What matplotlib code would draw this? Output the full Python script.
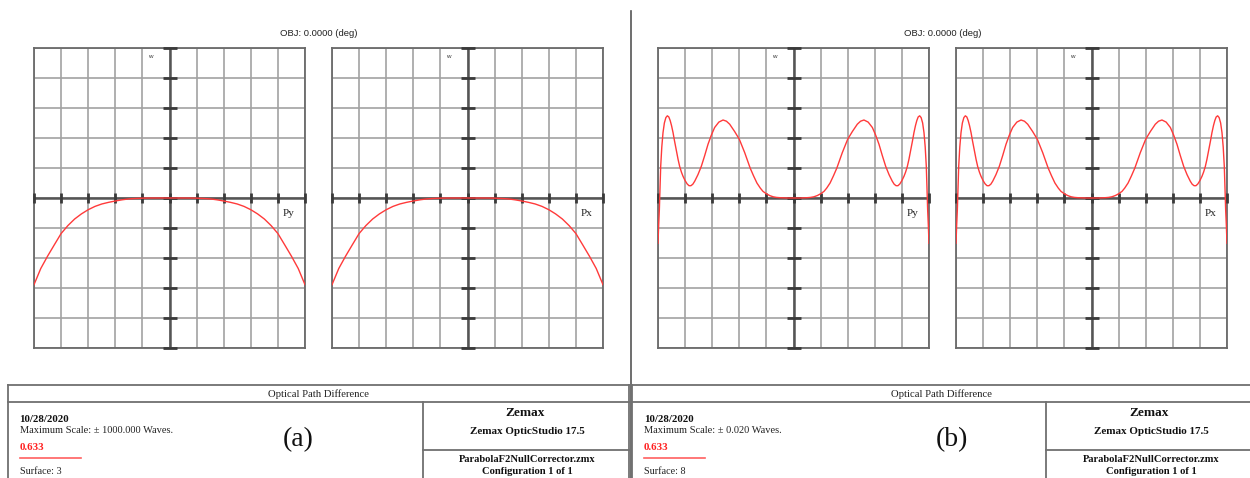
import numpy as np
import matplotlib
matplotlib.use("Agg")
import matplotlib.pyplot as plt

# ---- OPD fan data (normalized pupil coordinate, OPD in waves) ----
# Fans are rotationally symmetric on axis, so one half is listed and mirrored.
pupil_a = [0.00, 0.05, 0.10, 0.15, 0.20, 0.25, 0.30, 0.35, 0.40, 0.45, 0.50,
           0.55, 0.60, 0.65, 0.70, 0.75, 0.80, 0.85, 0.90, 0.95, 1.00]
opd_a = [0.0, 0.0, 0.0, -0.3, -1.0, -3.0, -6.0, -12.0, -20.0, -29.0, -40.0,
         -56.0, -78.0, -106.0, -140.0, -184.0, -237.0, -312.0, -388.0, -470.0, -578.0]

pupil_b = [0.000, 0.050, 0.100, 0.126, 0.150, 0.175, 0.200, 0.225, 0.245, 0.270,
           0.295, 0.320, 0.360, 0.400, 0.435, 0.471, 0.495, 0.520, 0.551, 0.582,
           0.606, 0.631, 0.655, 0.680, 0.705, 0.729, 0.743, 0.757, 0.771, 0.785,
           0.800, 0.815, 0.827, 0.840, 0.852, 0.866, 0.878, 0.889, 0.900, 0.910,
           0.920, 0.931, 0.942, 0.953, 0.963, 0.972, 0.980, 0.985, 0.990, 0.995,
           1.000]
opd_b = [0.0, 0.0, 0.00004, 0.00008, 0.00016, 0.00032, 0.00056, 0.00088, 0.00132, 0.0020,
         0.00296, 0.0040, 0.00604, 0.00784, 0.00888, 0.00984, 0.01024, 0.0104, 0.01012, 0.0094,
         0.0084, 0.00716, 0.00568, 0.00424, 0.00312, 0.00224, 0.00184, 0.00164, 0.00164, 0.00188,
         0.00232, 0.00288, 0.00344, 0.0042, 0.00516, 0.00648, 0.0076, 0.00872, 0.00964, 0.01032,
         0.0108, 0.01096, 0.01072, 0.0100, 0.00872, 0.0068, 0.00424, 0.0014, -0.00156, -0.0036,
         -0.00604]

max_scale_a = 1000.0   # waves
max_scale_b = 0.020    # waves
wavelength = "0.633"
field_label = "OBJ: 0.0000 (deg)"
fan_labels = ["Py", "Px"]
surfaces = ["3", "8"]
panel_tags = ["(a)", "(b)"]
date_text = "10/28/2020"
program = "Zemax OpticStudio 17.5"
lens_file = "ParabolaF2NullCorrector.zmx"
config_text = "Configuration 1 of 1"
title_text = "Optical Path Difference"

W, H = 1250, 478
fig = plt.figure(figsize=(W / 100, H / 100), dpi=100)
fig.patch.set_facecolor("white")

SERIF = ["Liberation Serif", "DejaVu Serif"]
SANS = ["Liberation Sans", "DejaVu Sans"]


def full_fan(p, v):
    p = np.asarray(p, float)
    v = np.asarray(v, float)
    x = np.concatenate([-p[::-1], p[1:]])
    y = np.concatenate([v[::-1], v[1:]])
    return x, y


def px_axes(left, top, width, height):
    return fig.add_axes([left / W, 1 - (top + height) / H, width / W, height / H])


def fan_plot(left, p, v, scale, label):
    ax = px_axes(left, 48, 271, 300)
    ax.set_xlim(-1, 1)
    ax.set_ylim(-scale, scale)
    xt = np.linspace(-1, 1, 11)
    yt = np.linspace(-scale, scale, 11)
    ax.set_xticks(xt)
    ax.set_yticks(yt)
    ax.tick_params(length=0, labelbottom=False, labelleft=False)
    ax.grid(True, color="#a2a2a2", lw=1.2)
    ax.set_axisbelow(True)
    for s in ax.spines.values():
        s.set_color("#6a6a6a")
        s.set_linewidth(1.3)
    ax.axhline(0, color="#555555", lw=1.8, zorder=2)
    ax.axvline(0, color="#555555", lw=1.8, zorder=2)
    # tick marks on the central axes
    ax.plot(np.zeros_like(yt), yt, ls="none", marker="_", ms=10, mew=2.0,
            color="#3a3a3a", zorder=3, clip_on=False)
    ax.plot(xt, np.zeros_like(xt), ls="none", marker="|", ms=7.5, mew=2.0,
            color="#3a3a3a", zorder=3, clip_on=False)
    x, y = full_fan(p, v)
    ax.plot(x, y, color="#ff3a3a", lw=1.0, zorder=4)
    ax.text(0.428, 0.972, "w", transform=ax.transAxes, fontsize=4.5,
            family=SANS, color="#333333", ha="center", va="center")
    ax.text(0.938, 0.447, label, transform=ax.transAxes, fontsize=8,
            family=SERIF, color="#222222", ha="center", va="center")
    return ax


fan_plot(34, pupil_a, opd_a, max_scale_a, fan_labels[0])
fan_plot(332, pupil_a, opd_a, max_scale_a, fan_labels[1])
fan_plot(658, pupil_b, opd_b, max_scale_b, fan_labels[0])
fan_plot(956, pupil_b, opd_b, max_scale_b, fan_labels[1])

# ---- overlay in pixel space for headers, divider and report boxes ----
ov = fig.add_axes([0, 0, 1, 1], zorder=10)
ov.set_xlim(0, W)
ov.set_ylim(H, 0)
ov.axis("off")
ov.patch.set_alpha(0)

LC = "#707070"
ov.text(319, 33, field_label, fontsize=6.8, family=SANS, ha="center", va="center", color="#222222")
ov.text(943, 33, field_label, fontsize=6.8, family=SANS, ha="center", va="center", color="#222222")
ov.plot([630.5, 630.5], [11, H], color="#555555", lw=1.2)


def report_box(x0, x1, split, head_x, tag_x, scale_text, surface, tag):
    top, head, mid = 385, 401.5, 450
    ov.plot([x0, x1], [top, top], color=LC, lw=1.3)
    ov.plot([x0, x1], [head, head], color=LC, lw=1.3)
    ov.plot([x0, x0], [top, H], color=LC, lw=1.3)
    if x1 < W:
        ov.plot([x1, x1], [top, H], color=LC, lw=1.3)
    ov.plot([split, split], [head, H], color=LC, lw=1.3)
    ov.plot([split, x1], [mid, mid], color=LC, lw=1.3)
    ov.text(head_x, 394.5, title_text,
            fontsize=7.7, family=SERIF, ha="center", va="center", color="#222222")
    tx = x0 + 12
    ov.text(tx, 420, date_text, fontsize=7.8, family=SERIF, ha="left", va="center",
            color="#111111", weight="bold")
    ov.text(tx, 430.5, scale_text, fontsize=7.5, family=SERIF, ha="left", va="center",
            color="#222222")
    ov.text(tx, 447.5, wavelength, fontsize=7.8, family=SERIF, ha="left", va="center",
            color="#ff2020", weight="bold")
    ov.plot([tx, tx + 61], [457.5, 457.5], color="#ff6060", lw=1.2)
    ov.text(tx, 471, "Surface: " + surface, fontsize=7.3, family=SERIF, ha="left",
            va="center", color="#222222")
    ov.text(tag_x, 440, tag, fontsize=20, family=SERIF, ha="center",
            va="center", color="#111111")
    cx = split + 103
    ov.text(cx, 413, "Zemax", fontsize=9.5, family=SERIF, ha="center", va="center",
            weight="bold", color="#111111")
    ov.text(cx + 2, 431, program, fontsize=8, family=SERIF, ha="center", va="center",
            weight="bold", color="#111111")
    ov.text(cx + 2, 460, lens_file, fontsize=7.6, family=SERIF, ha="center", va="center",
            weight="bold", color="#111111")
    ov.text(cx + 2, 472, config_text, fontsize=7.6, family=SERIF, ha="center", va="center",
            weight="bold", color="#111111")


report_box(7.5, 629, 422.5, 318, 298, "Maximum Scale: \u00b1 1000.000 Waves.",
           surfaces[0], panel_tags[0])
report_box(632, 1260, 1046, 941, 952, "Maximum Scale: \u00b1 0.020 Waves.",
           surfaces[1], panel_tags[1])

fig.savefig("out.png", dpi=100, facecolor="white")
